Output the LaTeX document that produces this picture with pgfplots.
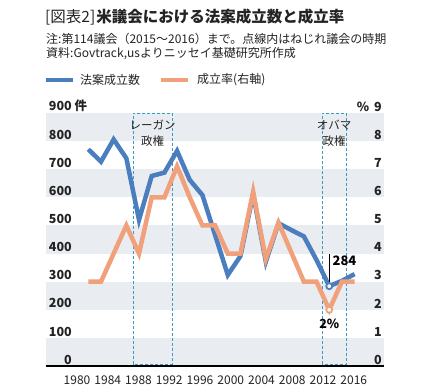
\documentclass[border=0pt]{standalone}
\usepackage{fontspec}
\setmainfont{Noto Sans CJK JP}
\usepackage{pgfplots}
\pgfplotsset{compat=1.18}
\definecolor{cblue}{RGB}{74,126,190}
\definecolor{corange}{RGB}{240,160,122}
\definecolor{cband}{RGB}{233,236,240}
\definecolor{cbox}{RGB}{55,155,195}
\definecolor{ctext}{RGB}{35,35,35}

\pgfplotstableread{
i laws
0 771
1 727
2 806
3 739
4 520
5 676
6 688
7 765
8 662
9 608
10 466
11 324
12 391
13 612
14 371
15 508
16 484
17 461
18 377
19 284
20 303
21 327
}\lawtable
\pgfplotstableread{
i rate
0 3.0
1 3.0
2 4.0
3 5.0
4 4.0
5 6.0
6 6.0
7 7.1
8 6.0
9 5.0
10 5.0
11 4.0
12 4.0
13 6.2
14 3.8
15 5.1
16 4.05
17 3.0
18 3.0
19 2.0
20 3.0
21 3.0
}\ratetable

\pgfplotsset{common/.style={
  at={(46bp,-366bp)}, anchor=south west,
  scale only axis, width=338bp, height=253bp,
  xmin=-3.336, xmax=23.32,
  axis line style={draw=none},
  major tick length=0pt,
  clip=false,
}}

\begin{document}
\begin{tikzpicture}
\useasboundingbox (0,0) rectangle (438bp,-392bp);
% title and notes
\node[anchor=west, inner sep=0pt, text=ctext] at (45bp,-17bp) {\fontsize{15.5bp}{18bp}\selectfont [図表2]\kern1bp\textbf{米議会における法案成立数と成立率}};
\node[anchor=west, inner sep=0pt, text=ctext] at (46bp,-39bp) {\fontsize{12bp}{14bp}\selectfont 注:第114議会（2015～2016）まで。点線内はねじれ議会の時期};
\node[anchor=west, inner sep=0pt, text=ctext] at (46bp,-54bp) {\fontsize{12bp}{14bp}\selectfont 資料:Govtrack,usよりニッセイ基礎研究所作成};
% legend
\draw[cblue, line width=4.5bp] (46bp,-80bp) -- (73bp,-80bp);
\node[anchor=west, inner sep=0pt, text=ctext] at (80bp,-80bp) {\fontsize{12bp}{14bp}\selectfont 法案成立数};
\draw[corange, line width=4.5bp] (161bp,-80bp) -- (188bp,-80bp);
\node[anchor=west, inner sep=0pt, text=ctext] at (197bp,-80bp) {\fontsize{12bp}{14bp}\selectfont 成立率(右軸)};

% background bands
\begin{axis}[common, ymin=0, ymax=900, xtick=\empty, ytick=\empty]
\fill[cband] (axis cs:-3.336,0) rectangle (axis cs:23.32,100);
\fill[cband] (axis cs:-3.336,200) rectangle (axis cs:23.32,300);
\fill[cband] (axis cs:-3.336,400) rectangle (axis cs:23.32,500);
\fill[cband] (axis cs:-3.336,600) rectangle (axis cs:23.32,700);
\fill[cband] (axis cs:-3.336,800) rectangle (axis cs:23.32,900);
\end{axis}

\begin{axis}[common,
  ymin=0, ymax=900,
  xtick={-0.891,1.534,3.959,6.384,8.809,11.234,13.659,16.084,18.509,20.934},
  xticklabels={1980,1984,1988,1992,1996,2000,2004,2008,2012,2016},
  xticklabel style={font=\fontsize{12bp}{14bp}\selectfont, text=ctext, anchor=north, inner sep=0pt, yshift=-10bp},
  ytick={0,100,200,300,400,500,600,700,800,900},
  yticklabels={0,100,200,300,400,500,600,700,800,{900\rlap{ 件}}},
  yticklabel style={font=\bfseries\fontsize{12.5bp}{14bp}\selectfont, text=ctext, anchor=south east, inner sep=0pt, xshift=26bp, yshift=1.5bp},
]
\draw[cbox, line width=0.9bp, dash pattern=on 3bp off 2bp] (axis cs:3.549,6) rectangle (axis cs:6.625,899);
\draw[cbox, line width=0.9bp, dash pattern=on 3bp off 2bp] (axis cs:18.45,6) rectangle (axis cs:20.38,899);
\node[align=center, text=ctext, inner sep=0pt, font=\fontsize{11.5bp}{16.7bp}\selectfont] at (axis cs:5.08,828) {レーガン\\政権};
\node[align=center, text=ctext, inner sep=0pt, font=\fontsize{11.5bp}{16.7bp}\selectfont] at (axis cs:19.38,828) {オバマ\\政権};
\addplot[cblue, line width=4.5bp, mark=*, mark indices={20}, mark size=3bp, mark options={fill=white, draw=cblue, line width=1.8bp}] table[x=i, y=laws] {\lawtable};
\draw[black, line width=0.8bp] (axis cs:19,299) -- (axis cs:19,398);
\node[anchor=west, inner sep=0pt, text=black, font=\bfseries\fontsize{13bp}{15bp}\selectfont] at (axis cs:19.25,373) {284};
\end{axis}

\begin{axis}[common,
  ymin=0, ymax=9,
  xtick=\empty,
  ytick={0,1,2,3,4,5,6,7,8,9},
  yticklabel pos=right,
  yticklabels={0,1,2,3,4,5,6,7,8,{\llap{\%\ \,}9}},
  yticklabel style={font=\bfseries\fontsize{12.5bp}{14bp}\selectfont, text=ctext, anchor=south east, inner sep=0pt, xshift=-2bp, yshift=1.5bp},
]
\addplot[corange, line width=4.5bp, mark=*, mark indices={20}, mark size=3bp, mark options={fill=white, draw=corange, line width=1.8bp}] table[x=i, y=rate] {\ratetable};
\node[inner sep=0pt, text=black, font=\bfseries\fontsize{12.5bp}{15bp}\selectfont] at (axis cs:19,1.5) {2\%};
\draw[black, line width=1.3bp] (rel axis cs:0,0) -- (rel axis cs:1,0);
\end{axis}
\end{tikzpicture}
\end{document}
